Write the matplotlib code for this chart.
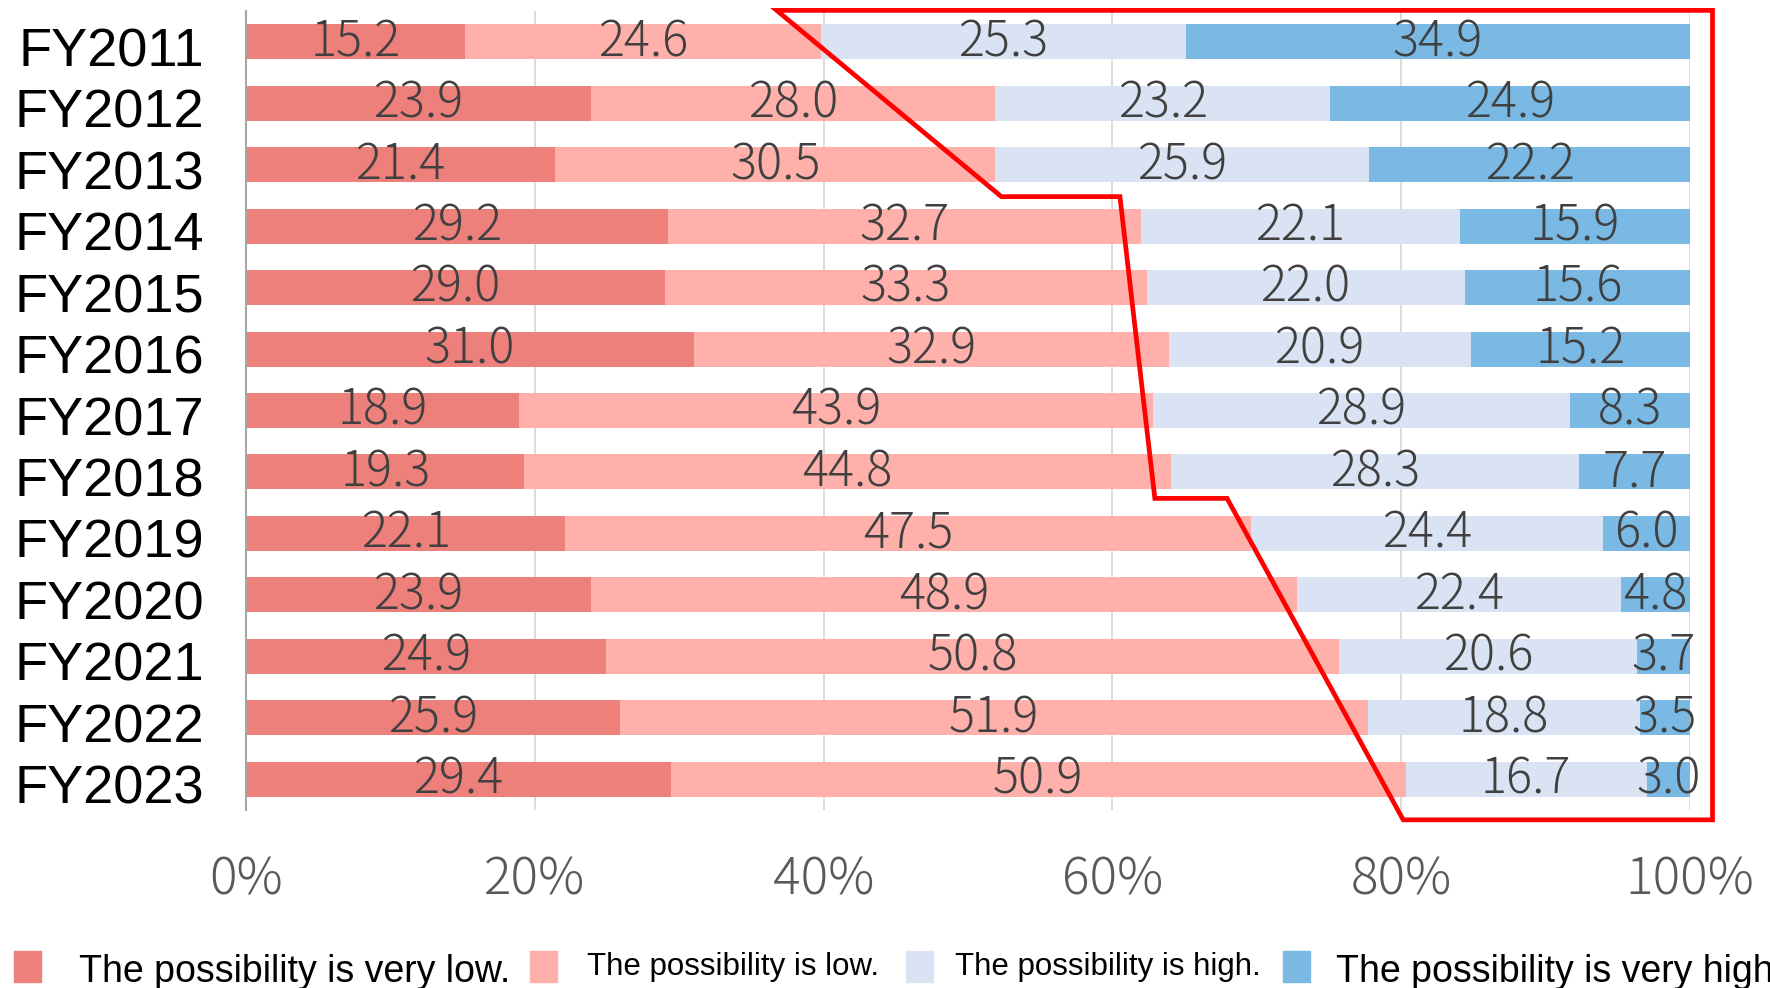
import matplotlib
matplotlib.use("Agg")
import matplotlib.pyplot as plt
from matplotlib.patches import Rectangle, Polygon
import matplotlib.transforms as mtrans
import numpy as np

years = ["FY2011", "FY2012", "FY2013", "FY2014", "FY2015", "FY2016", "FY2017",
         "FY2018", "FY2019", "FY2020", "FY2021", "FY2022", "FY2023"]
very_low = [15.2, 23.9, 21.4, 29.2, 29.0, 31.0, 18.9, 19.3, 22.1, 23.9, 24.9, 25.9, 29.4]
low = [24.6, 28.0, 30.5, 32.7, 33.3, 32.9, 43.9, 44.8, 47.5, 48.9, 50.8, 51.9, 50.9]
high = [25.3, 23.2, 25.9, 22.1, 22.0, 20.9, 28.9, 28.3, 24.4, 22.4, 20.6, 18.8, 16.7]
very_high = [34.9, 24.9, 22.2, 15.9, 15.6, 15.2, 8.3, 7.7, 6.0, 4.8, 3.7, 3.5, 3.0]
series_names = ["The possibility is very low.", "The possibility is low.",
                "The possibility is high.", "The possibility is very high"]
colors = ["#EE807B", "#FFB0AB", "#DAE3F3", "#79B9E4"]
xticks = [0, 20, 40, 60, 80, 100]
xtick_labels = ["0%", "20%", "40%", "60%", "80%", "100%"]
# highlight outline (annotation) in data coords: (x %, row position)
highlight = [(36.75, -0.51), (101.56, -0.51), (101.56, 12.66), (80.14, 12.66),
             (67.94, 7.43), (62.94, 7.43), (60.52, 2.52), (52.31, 2.52)]

NUM_FONT = ["Noto Sans CJK JP", "DejaVu Sans"]

fig = plt.figure(figsize=(17.7, 9.88), dpi=100)
ax = fig.add_axes([246/1770, 1-810/988, (1690-246)/1770, (810-11)/988])

data = np.array([very_low, low, high, very_high])
totals = data.sum(axis=0)
pct = data / totals * 100
ypos = np.arange(len(years))
left = np.zeros(len(years))
for i in range(4):
    bars = ax.barh(ypos, pct[i], left=left, height=0.57, color=colors[i], zorder=2)
    for j, b in enumerate(bars):
        cx = left[j] + pct[i][j] / 2
        ax.text(cx, ypos[j] + 0.01, f"{data[i][j]:.1f}", ha="center", va="center",
                fontsize=35, color="#404040", family=NUM_FONT, fontweight="light", zorder=3)
    left = left + pct[i]

ax.set_xlim(0, 100)
ax.set_ylim(12.5, -0.5)
ax.set_yticks(ypos)
ax.set_yticklabels(years, fontsize=39, family="Liberation Sans", color="black")
ax.set_xticks(xticks)
ax.set_xticklabels(xtick_labels, fontsize=37, family=NUM_FONT, color="#595959")
ax.tick_params(axis="y", length=0, pad=30)
ax.tick_params(axis="x", length=0, pad=31)
for lab in ax.get_xticklabels():
    lab.set_fontweight("light")
offset = mtrans.ScaledTranslation(0, -5/100, fig.dpi_scale_trans)
for lab in ax.get_yticklabels():
    lab.set_transform(lab.get_transform() + offset)
ax.grid(axis="x", color="#D9D9D9", linewidth=1.3, zorder=0)
for s in ["top", "right", "bottom"]:
    ax.spines[s].set_visible(False)
ax.spines["left"].set_color("#A6A6A6")
ax.spines["left"].set_linewidth(1.5)
ax.spines["left"].set_zorder(4)

poly = Polygon(highlight, closed=True, fill=False, edgecolor="#FF0000",
               linewidth=3.4, clip_on=False, zorder=5, joinstyle="miter")
ax.add_patch(poly)

# legend (manual layout)
marker_x = [13.5, 530, 906, 1283]
text_x = [79, 587, 955, 1336]
text_size = [27, 22.5, 22.5, 27]
text_base = [982, 975, 975, 982]
for i in range(4):
    fig.patches.append(Rectangle((marker_x[i]/1770, 1-982/988), 27/1770, 31/988,
                                 transform=fig.transFigure, color=colors[i]))
    fig.text(text_x[i]/1770, 1-text_base[i]/988, series_names[i], fontsize=text_size[i],
             family="Liberation Sans", color="black", ha="left", va="baseline")

fig.savefig("out.png", dpi=100)
